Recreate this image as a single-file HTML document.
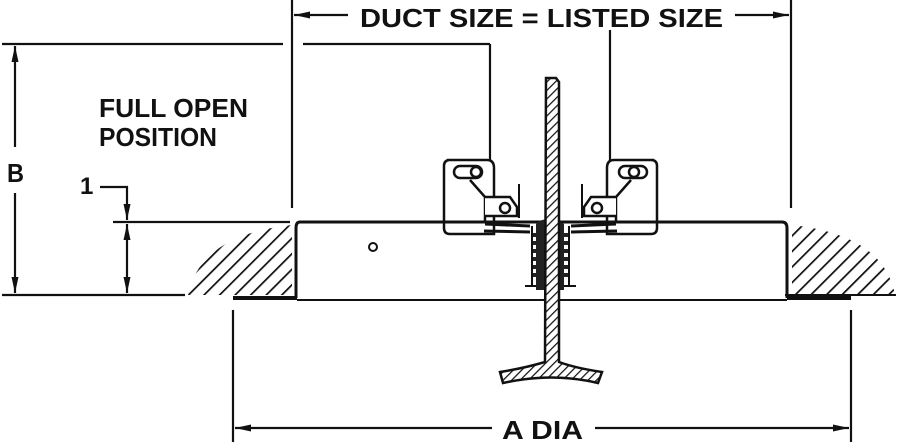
<!DOCTYPE html>
<html><head><meta charset="utf-8"><style>
html,body{margin:0;padding:0;background:#fff;}
svg{display:block}
text{font-family:"Liberation Sans",sans-serif;font-weight:bold;fill:#111}
</style></head><body>
<svg width="899" height="447" viewBox="0 0 899 447" xmlns="http://www.w3.org/2000/svg">
<defs>
<pattern id="h" patternUnits="userSpaceOnUse" width="11" height="11" patternTransform="rotate(45)">
<rect width="11" height="11" fill="#fff"/><line x1="0" y1="0" x2="0" y2="11" stroke="#111" stroke-width="3.5"/></pattern>
<pattern id="s" patternUnits="userSpaceOnUse" width="6" height="6" patternTransform="rotate(45)">
<rect width="6" height="6" fill="#fff"/><line x1="0" y1="0" x2="0" y2="6" stroke="#111" stroke-width="2.5"/></pattern>
<marker id="a" viewBox="0 0 16 7" refX="16" refY="3.5" markerWidth="16" markerHeight="7" markerUnits="userSpaceOnUse" orient="auto-start-reverse"><path d="M0,0L16,3.5L0,7z" fill="#111"/></marker>
</defs>
<g stroke="#111" fill="none" stroke-width="2.2">
<line x1="292" y1="0" x2="292" y2="208"/>
<line x1="791" y1="0" x2="791" y2="208"/>
<line x1="294" y1="15" x2="348" y2="15" marker-start="url(#a)"/>
<line x1="735" y1="15" x2="789" y2="15" marker-end="url(#a)"/>
<line x1="2" y1="44" x2="283" y2="44"/>
<line x1="303" y1="44" x2="490" y2="44"/>
<line x1="490" y1="44" x2="490" y2="162"/>
<line x1="610" y1="30" x2="610" y2="162"/>
<line x1="15" y1="46" x2="15" y2="147" marker-start="url(#a)"/>
<line x1="15" y1="193" x2="15" y2="293" marker-end="url(#a)"/>
<line x1="2" y1="295" x2="185" y2="295"/>
<polyline points="100,187 127,187 127,220" marker-end="url(#a)"/>
<line x1="127" y1="250" x2="127" y2="293" marker-end="url(#a)"/>
<line x1="127" y1="250" x2="127" y2="224" marker-end="url(#a)"/>
<line x1="113" y1="222" x2="290" y2="222"/>
<line x1="233" y1="310" x2="233" y2="442"/>
<line x1="851" y1="310" x2="851" y2="442"/>
<line x1="235" y1="428" x2="492" y2="428" marker-start="url(#a)"/>
<line x1="595" y1="428" x2="849" y2="428" marker-end="url(#a)"/>
</g>
<path d="M292,225 Q200,235 188,295 L292,295Z" fill="url(#h)"/>
<path d="M792,225 Q884,235 895,295 L792,295Z" fill="url(#h)"/>
<g stroke="#111" fill="none">
<path d="M443,222 H300 Q296,222 296,228 V298" stroke-width="3"/>
<path d="M655,222 H782 Q787,222 787,228 V298" stroke-width="3"/>
<line x1="233" y1="298" x2="297" y2="298" stroke-width="4"/>
<line x1="787" y1="298" x2="851" y2="298" stroke-width="4"/>
<line x1="297" y1="300" x2="787" y2="300" stroke-width="2"/>
<line x1="785" y1="295" x2="896" y2="295" stroke-width="2"/>
<circle cx="373" cy="247" r="4" stroke-width="2"/>
<path d="M447,160 H487 Q494,160 494,168 V234 H450 Q444,234 444,228 V166 Q444,160 450,160Z" stroke-width="2.5" fill="#fff"/>
<path d="M654,160 H614 Q607,160 607,168 V234 H651 Q657,234 657,228 V166 Q657,160 651,160Z" stroke-width="2.5" fill="#fff"/>
<rect x="454" y="166" width="28" height="12" rx="6" stroke-width="2.5"/>
<rect x="619" y="166" width="28" height="12" rx="6" stroke-width="2.5"/>
<circle cx="476" cy="172" r="5" stroke-width="2.5"/><circle cx="634" cy="172" r="5" stroke-width="2.5"/>
<path d="M470,180 L485,197 V222 M631,180 L616,197 V222" stroke-width="2.5"/>
<path d="M485,197 H510 L517,207 V216 H485" stroke-width="2.5" fill="#fff"/>
<path d="M616,197 H591 L584,207 V216 H616" stroke-width="2.5" fill="#fff"/>
<circle cx="505" cy="208" r="5" stroke-width="2.5"/><circle cx="597" cy="208" r="5" stroke-width="2.5"/>
<path d="M519,184 V218 M582,184 V218" stroke-width="2"/>
<line x1="430" y1="222" x2="672" y2="222" stroke-width="3"/>
<path d="M485,224 L530,226 M616,224 L571,226 M484,231 L530,232 M617,231 L571,232" stroke-width="3"/>
<path d="M532,226 V287 M569,226 V287" stroke-width="2"/>
<path d="M525,286 H576" stroke-width="2"/>
<path d="M536,224 Q546,214 564,224 V290 H536Z" fill="#222" stroke="none"/>
<path d="M533,235 h6 M533,243 h6 M533,251 h6 M533,259 h6 M533,267 h6 M533,275 h6 M562,235 h6 M562,243 h6 M562,251 h6 M562,259 h6 M562,267 h6 M562,275 h6" stroke="#222" stroke-width="4"/>
<path d="M546,78 H556 L559,82 V362 Q575,368 602,372 L598,383 Q552,372 503,383 L500,372 Q525,368 545,362Z" fill="url(#s)" stroke-width="2.5"/>
</g>
<rect x="350" y="2" width="382" height="28" fill="#fff"/>
<text x="360" y="27" font-size="26" textLength="363" lengthAdjust="spacingAndGlyphs">DUCT SIZE = LISTED SIZE</text>
<text x="99" y="117" font-size="26" textLength="149" lengthAdjust="spacingAndGlyphs">FULL OPEN</text>
<text x="99" y="146" font-size="26" textLength="118" lengthAdjust="spacingAndGlyphs">POSITION</text>
<text x="7" y="182" font-size="26" textLength="17" lengthAdjust="spacingAndGlyphs">B</text>
<text x="80" y="194" font-size="24">1</text>
<text x="502" y="439" font-size="26" textLength="81" lengthAdjust="spacingAndGlyphs">A DIA</text>
</svg>
</body></html>
